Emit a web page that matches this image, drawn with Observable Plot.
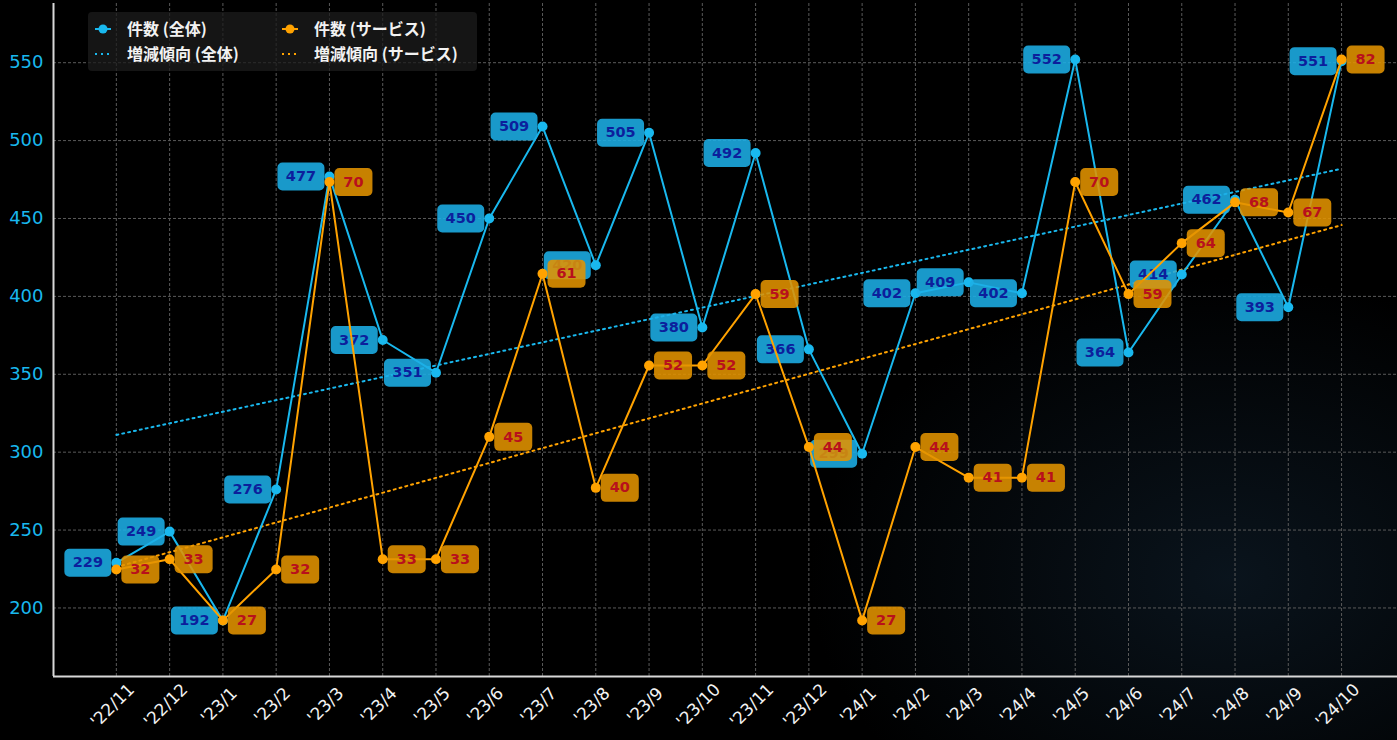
<!DOCTYPE html>
<html>
<head>
<meta charset="utf-8">
<script src="https://cdn.jsdelivr.net/npm/d3@7"></script>
<script src="https://cdn.jsdelivr.net/npm/@observablehq/plot@0.6"></script>
<style>
  html, body { margin: 0; padding: 0; background: #000; }
  body { width: 1397px; height: 740px; overflow: hidden; position: relative;
    background: radial-gradient(ellipse 420px 300px at 88% 78%, rgba(18,36,52,0.55), rgba(0,0,0,0) 100%), #000; }
  #chart { position: absolute; left: 0; top: 0; }
  #legend { position: absolute; left: 88px; top: 12px; }
</style>
</head>
<body>
<div id="chart"></div>
<div id="legend"></div>
<script>
const months = ["'22/11","'22/12","'23/1","'23/2","'23/3","'23/4","'23/5","'23/6","'23/7","'23/8","'23/9","'23/10","'23/11","'23/12","'24/1","'24/2","'24/3","'24/4","'24/5","'24/6","'24/7","'24/8","'24/9","'24/10"];
const totalCounts = [229,249,192,276,477,372,351,450,509,420,505,380,492,366,299,402,409,402,552,364,414,462,393,551];
const serviceCounts = [32,33,27,32,70,33,33,45,61,40,52,52,59,44,27,44,41,41,70,59,64,68,67,82];
const yTicks = [200,250,300,350,400,450,500,550];
const legendLabels = ["件数 (全体)","件数 (サービス)","増減傾向 (全体)","増減傾向 (サービス)"];

const BLUE = "#19b8ee", ORANGE = "#ffa200";
const FONT = "'Noto Sans CJK JP', 'Noto Sans', sans-serif";
const NUMFONT = "'DejaVu Sans', sans-serif";

// secondary axis mapping (service min/max aligned with total min/max)
const t0 = d3.min(totalCounts), t1 = d3.max(totalCounts);
const s0 = d3.min(serviceCounts), s1 = d3.max(serviceCounts);
const toPrimary = v => t0 + (v - s0) * (t1 - t0) / (s1 - s0);

const totalData = totalCounts.map((v, i) => ({i, v, y: v}));
const serviceData = serviceCounts.map((v, i) => ({i, v, y: toPrimary(v)}));

function roundRect(w, h, r) {
  return {draw(ctx) {
    const x0 = -w/2, y0 = -h/2, x1 = w/2, y1 = h/2;
    ctx.moveTo(x0 + r, y0); ctx.lineTo(x1 - r, y0); ctx.arcTo(x1, y0, x1, y0 + r, r);
    ctx.lineTo(x1, y1 - r); ctx.arcTo(x1, y1, x1 - r, y1, r);
    ctx.lineTo(x0 + r, y1); ctx.arcTo(x0, y1, x0, y1 - r, r);
    ctx.lineTo(x0, y0 + r); ctx.arcTo(x0, y0, x0 + r, y0, r); ctx.closePath();
  }};
}

const plot = Plot.plot({
  width: 1397, height: 740,
  marginLeft: 53, marginRight: 0, marginTop: 3, marginBottom: 64,
  style: {background: "transparent", fontFamily: NUMFONT, overflow: "visible"},
  x: {type: "linear", domain: [-1.18, 24.05], axis: null},
  y: {domain: [156, 588], axis: null},
  marks: [
    Plot.ruleX(d3.range(months.length), {stroke: "#5a5a5a", strokeWidth: 1, strokeDasharray: "3,2"}),
    Plot.ruleY(yTicks, {stroke: "#5a5a5a", strokeWidth: 1, strokeDasharray: "3,2"}),
    Plot.ruleX([-1.18], {stroke: "#d8d8d8", strokeWidth: 2}),
    Plot.ruleY([156], {stroke: "#d8d8d8", strokeWidth: 2}),
    Plot.axisY({ticks: yTicks, tickSize: 0, tickPadding: 10, color: BLUE, fontSize: 18, label: null}),
    Plot.text(months, {x: (d, i) => i, frameAnchor: "bottom", dy: 33, rotate: -45, fill: "#f2f2f2", fontSize: 17, textAnchor: "middle"}),
    Plot.linearRegressionY(totalData, {x: "i", y: "y", stroke: BLUE, strokeWidth: 2, strokeDasharray: "2,4", ci: 0}),
    Plot.linearRegressionY(serviceData, {x: "i", y: "y", stroke: ORANGE, strokeWidth: 2, strokeDasharray: "2,4", ci: 0}),
    Plot.line(totalData, {x: "i", y: "y", stroke: BLUE, strokeWidth: 2}),
    Plot.dot(totalData, {x: "i", y: "y", fill: BLUE, r: 5}),
    Plot.dot(totalData, {x: "i", y: "y", symbol: roundRect(47, 28, 5), r: 3, fill: "#1caee6", fillOpacity: 0.88, dx: -28.5}),
    Plot.text(totalData, {x: "i", y: "y", text: d => String(d.v), dx: -28.5, fill: "#0c1f9c", fontSize: 14.5, fontWeight: "bold"}),
    Plot.line(serviceData, {x: "i", y: "y", stroke: ORANGE, strokeWidth: 2}),
    Plot.dot(serviceData, {x: "i", y: "y", fill: ORANGE, r: 5}),
    Plot.dot(serviceData, {x: "i", y: "y", symbol: roundRect(38, 28, 5), r: 3, fill: "#e39300", fillOpacity: 0.88, dx: 24}),
    Plot.text(serviceData, {x: "i", y: "y", text: d => String(d.v), dx: 24, fill: "#b8101c", fontSize: 14.5, fontWeight: "bold"})
  ]
});
document.getElementById("chart").appendChild(plot);

// legend
const lg = d3.select("#legend").append("svg").attr("width", 390).attr("height", 60)
  .style("font-family", FONT);
lg.append("rect").attr("width", 389).attr("height", 59).attr("rx", 4)
  .attr("fill", "#1c1c1c").attr("fill-opacity", 0.75);
const items = [
  {x: 7, y: 17, color: BLUE, dotted: false, label: legendLabels[0]},
  {x: 194, y: 17, color: ORANGE, dotted: false, label: legendLabels[1]},
  {x: 7, y: 42, color: BLUE, dotted: true, label: legendLabels[2]},
  {x: 194, y: 42, color: ORANGE, dotted: true, label: legendLabels[3]}
];
for (const it of items) {
  lg.append("line").attr("x1", it.x).attr("x2", it.x + 16).attr("y1", it.y).attr("y2", it.y)
    .attr("stroke", it.color).attr("stroke-width", 2)
    .attr("stroke-dasharray", it.dotted ? "2,4" : null);
  if (!it.dotted) lg.append("circle").attr("cx", it.x + 8).attr("cy", it.y).attr("r", 4.5).attr("fill", it.color);
  lg.append("text").attr("x", it.x + 32).attr("y", it.y).attr("dy", "0.35em")
    .attr("fill", "#f2f2f2").attr("font-size", 16).attr("font-weight", 600).text(it.label);
}
</script>
</body>
</html>
